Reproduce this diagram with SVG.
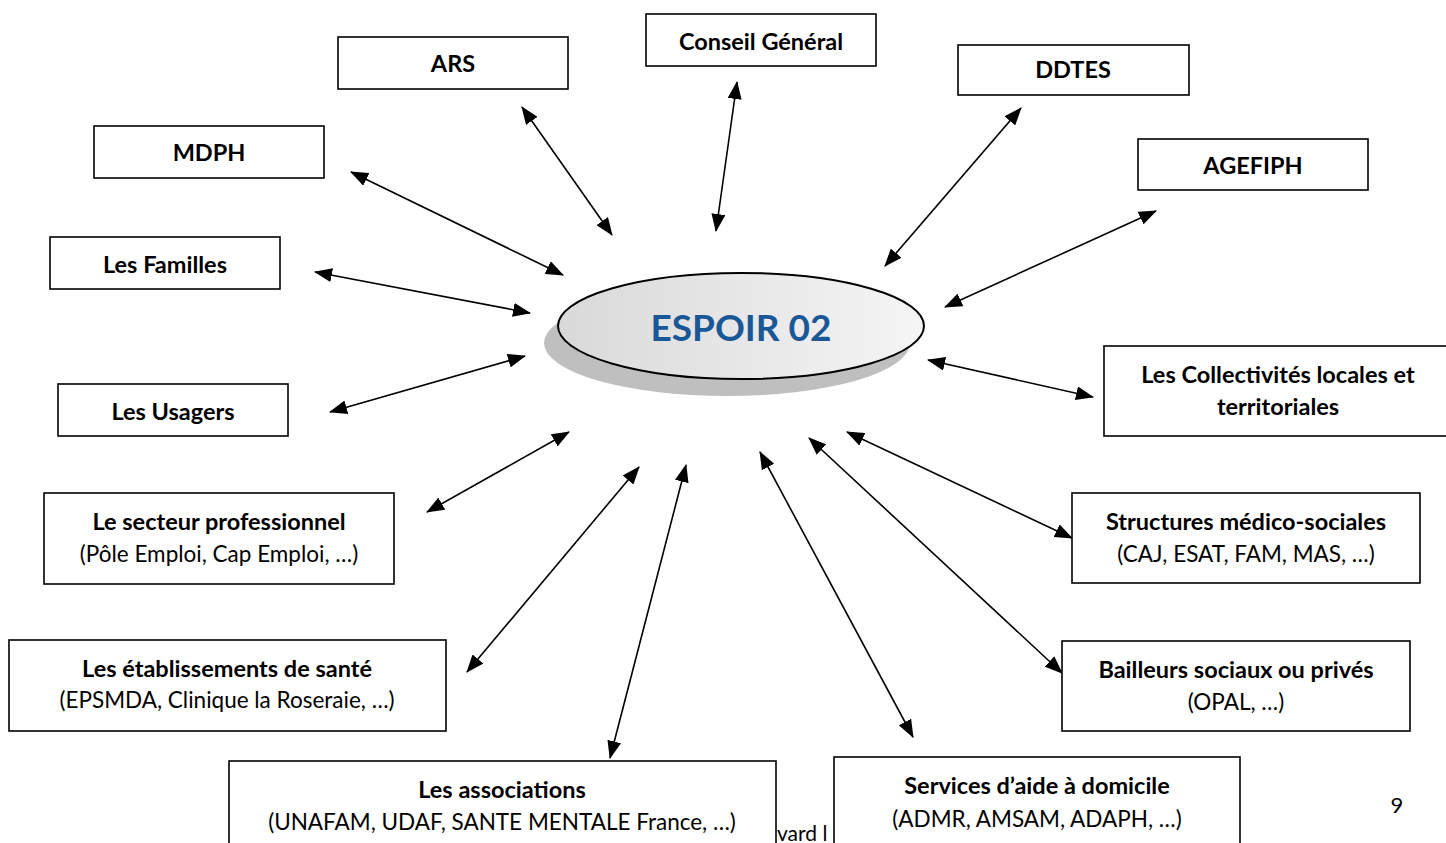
<svg xmlns="http://www.w3.org/2000/svg" width="1446" height="843" viewBox="0 0 1446 843">
<style>
.box{fill:#fff;stroke:#000;stroke-width:1.6}
.t{font-family:Lato,"Open Sans","Liberation Sans",sans-serif;font-size:22.5px;text-anchor:middle;fill:#000}
.b{font-weight:bold;font-size:23.5px}
.c{stroke:#000;stroke-width:1.6;fill:none;marker-start:url(#ah);marker-end:url(#ah)}
</style>
<defs>
<marker id="ah" viewBox="0 0 18 14" refX="17" refY="7" markerWidth="18" markerHeight="14" markerUnits="userSpaceOnUse" orient="auto-start-reverse">
<path d="M0,0 L18,7 L0,14 z" fill="#000"/>
</marker>
<linearGradient id="eg" x1="0" y1="0" x2="1" y2="0">
<stop offset="0" stop-color="#d9d9d9"/>
<stop offset="1" stop-color="#f5f5f5"/>
</linearGradient>
</defs>
<rect width="1446" height="843" fill="#fff"/>
<text x="777" y="841" class="t" style="text-anchor:start;font-size:21px">vard l</text>
<g id="connectors">
<line class="c" x1="351" y1="172" x2="563" y2="275"/>
<line class="c" x1="522" y1="107" x2="612" y2="235"/>
<line class="c" x1="737" y1="82" x2="716" y2="231"/>
<line class="c" x1="1021" y1="108" x2="885" y2="266"/>
<line class="c" x1="1156" y1="211" x2="945" y2="307"/>
<line class="c" x1="315" y1="272" x2="530" y2="313"/>
<line class="c" x1="330" y1="412" x2="525" y2="356"/>
<line class="c" x1="928" y1="360" x2="1093" y2="397"/>
<line class="c" x1="427" y1="512" x2="569" y2="432"/>
<line class="c" x1="847" y1="432" x2="1072" y2="538"/>
<line class="c" x1="467" y1="672" x2="639" y2="467"/>
<line class="c" x1="610" y1="758" x2="686" y2="465"/>
<line class="c" x1="809" y1="438" x2="1062" y2="673"/>
<line class="c" x1="760" y1="452" x2="913" y2="737"/>
</g>
<g id="espoir">
<ellipse cx="727" cy="343" rx="183" ry="53" fill="#bfbfbf"/>
<ellipse cx="741" cy="326" rx="183" ry="53" fill="url(#eg)" stroke="#000" stroke-width="2"/>
<text x="741" y="341" class="t" style="font-size:37px;font-weight:bold;fill:#1a5797">ESPOIR 02</text>
</g>
<g id="ars"><rect class="box" x="338" y="37" width="230" height="52"/><text x="453" y="72" class="t b">ARS</text></g>
<g id="conseil"><rect class="box" x="646" y="14" width="230" height="52"/><text x="761" y="50" class="t b">Conseil Général</text></g>
<g id="ddtes"><rect class="box" x="958" y="45" width="231" height="50"/><text x="1073" y="78" class="t b">DDTES</text></g>
<g id="agefiph"><rect class="box" x="1138" y="139" width="230" height="51"/><text x="1253" y="174" class="t b">AGEFIPH</text></g>
<g id="mdph"><rect class="box" x="94" y="126" width="230" height="52"/><text x="209" y="161" class="t b">MDPH</text></g>
<g id="familles"><rect class="box" x="50" y="237" width="230" height="52"/><text x="165" y="273" class="t b">Les Familles</text></g>
<g id="usagers"><rect class="box" x="58" y="384" width="230" height="52"/><text x="173" y="420" class="t b">Les Usagers</text></g>
<g id="collectivites"><rect class="box" x="1104" y="346" width="350" height="90"/><text x="1278" y="383" class="t b">Les Collectivités locales et</text><text x="1278" y="415" class="t b">territoriales</text></g>
<g id="secteur"><rect class="box" x="44" y="493" width="350" height="91"/><text x="219" y="530" class="t b">Le secteur professionnel</text><text x="219" y="562" class="t">(Pôle Emploi, Cap Emploi, …)</text></g>
<g id="etablissements"><rect class="box" x="9" y="640" width="437" height="91"/><text x="227" y="677" class="t b">Les établissements de santé</text><text x="227" y="708" class="t">(EPSMDA, Clinique la Roseraie, …)</text></g>
<g id="structures"><rect class="box" x="1072" y="493" width="348" height="90"/><text x="1246" y="530" class="t b">Structures médico-sociales</text><text x="1246" y="562" class="t">(CAJ, ESAT, FAM, MAS, …)</text></g>
<g id="bailleurs"><rect class="box" x="1062" y="641" width="348" height="90"/><text x="1236" y="678" class="t b">Bailleurs sociaux ou privés</text><text x="1236" y="710" class="t">(OPAL, …)</text></g>
<g id="associations"><rect class="box" x="229" y="761" width="547" height="100"/><text x="502" y="798" class="t b">Les associations</text><text x="502" y="830" class="t">(UNAFAM, UDAF, SANTE MENTALE France, …)</text></g>
<g id="services"><rect class="box" x="834" y="757" width="406" height="100"/><text x="1037" y="794" class="t b">Services d’aide à domicile</text><text x="1037" y="827" class="t">(ADMR, AMSAM, ADAPH, …)</text></g>
<text x="1397" y="813" class="t" style="font-size:22px">9</text>
</svg>
